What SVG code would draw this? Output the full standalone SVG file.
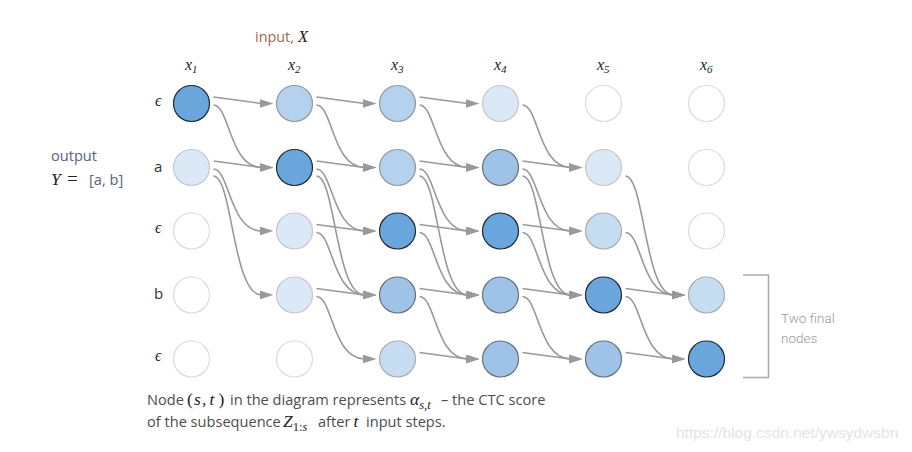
<svg xmlns="http://www.w3.org/2000/svg" width="912" height="452" viewBox="0 0 912 452">
<defs>
<marker id="arr" markerUnits="userSpaceOnUse" markerWidth="14" markerHeight="9" refX="2" refY="4.5" orient="0">
<path d="M0,0 L14,4.5 L0,9 z" fill="#999"/>
</marker>
<style>
.e{fill:none;stroke:#999;stroke-width:1.6;marker-end:url(#arr)}
circle{stroke-width:1.2}
.n0{fill:#fff;stroke:#dcdcdc}
.n1{fill:#dbe8f5;stroke:#c4c8cc}
.n2{fill:#c6dcf0;stroke:#a9adb1}
.n3{fill:#b4d2ee;stroke:#95999d}
.n4{fill:#9fc3e6;stroke:#6b7075}
.n5{fill:#6aa5db;stroke:#1e2a36}
.m{font-family:"Liberation Serif","DejaVu Serif",serif;font-style:italic;fill:#222}
.mu{font-family:"Liberation Serif","DejaVu Serif",serif;font-style:normal;fill:#222}
.t{font-family:"Open Sans","Noto Sans",sans-serif;font-size:14.6px;fill:#4d4d4d}
.rl{font-family:"Open Sans","Noto Sans",sans-serif;font-size:15px;fill:#333}
.xl{font-family:"Liberation Serif","DejaVu Serif",serif;font-style:italic;font-size:16px;fill:#222}
</style>
</defs>
<g id="connectors">
<path class="e" d="M213.5 97 L261.5 103.5"/>
<path class="e" d="M213.5 105 C229.5 105 229.5 167.5 261.5 167.5"/>
<path class="e" d="M213.5 161 L261.5 167.5"/>
<path class="e" d="M213.5 169 C229.5 169 229.5 231 261.5 231"/>
<path class="e" d="M213.5 176 C232.5 176 232.5 295 261.5 295"/>

<path class="e" d="M316.5 97 L364.5 103.5"/>
<path class="e" d="M316.5 105 C332.5 105 332.5 167.5 364.5 167.5"/>
<path class="e" d="M316.5 161 L364.5 167.5"/>
<path class="e" d="M316.5 169 C332.5 169 332.5 231 364.5 231"/>
<path class="e" d="M316.5 176 C335.5 176 335.5 295 364.5 295"/>
<path class="e" d="M316.5 224.5 L364.5 231"/>
<path class="e" d="M316.5 232.5 C332.5 232.5 332.5 295 364.5 295"/>
<path class="e" d="M316.5 288.5 L364.5 295"/>
<path class="e" d="M316.5 296.5 C332.5 296.5 332.5 359 364.5 359"/>

<path class="e" d="M419.5 97 L467.5 103.5"/>
<path class="e" d="M419.5 105 C435.5 105 435.5 167.5 467.5 167.5"/>
<path class="e" d="M419.5 161 L467.5 167.5"/>
<path class="e" d="M419.5 169 C435.5 169 435.5 231 467.5 231"/>
<path class="e" d="M419.5 176 C438.5 176 438.5 295 467.5 295"/>
<path class="e" d="M419.5 224.5 L467.5 231"/>
<path class="e" d="M419.5 232.5 C435.5 232.5 435.5 295 467.5 295"/>
<path class="e" d="M419.5 288.5 L467.5 295"/>
<path class="e" d="M419.5 296.5 C435.5 296.5 435.5 359 467.5 359"/>
<path class="e" d="M419.5 352.5 L467.5 359"/>

<path class="e" d="M522.5 105 C538.5 105 538.5 167.5 570.5 167.5"/>
<path class="e" d="M522.5 161 L570.5 167.5"/>
<path class="e" d="M522.5 169 C538.5 169 538.5 231 570.5 231"/>
<path class="e" d="M522.5 176 C541.5 176 541.5 295 570.5 295"/>
<path class="e" d="M522.5 224.5 L570.5 231"/>
<path class="e" d="M522.5 232.5 C538.5 232.5 538.5 295 570.5 295"/>
<path class="e" d="M522.5 288.5 L570.5 295"/>
<path class="e" d="M522.5 296.5 C538.5 296.5 538.5 359 570.5 359"/>
<path class="e" d="M522.5 352.5 L570.5 359"/>

<path class="e" d="M625.5 176 C644.5 176 644.5 295 673.5 295"/>
<path class="e" d="M625.5 232.5 C641.5 232.5 641.5 295 673.5 295"/>
<path class="e" d="M625.5 288.5 L673.5 295"/>
<path class="e" d="M625.5 296.5 C641.5 296.5 641.5 359 673.5 359"/>
<path class="e" d="M625.5 352.5 L673.5 359"/>
</g>

<g id="node-x1-r0"><circle class="n5" cx="191.5" cy="103.5" r="18"/></g>
<g id="node-x1-r1"><circle class="n1" cx="191.5" cy="167.5" r="18"/></g>
<g id="node-x1-r2"><circle class="n0" cx="191.5" cy="231" r="18"/></g>
<g id="node-x1-r3"><circle class="n0" cx="191.5" cy="295" r="18"/></g>
<g id="node-x1-r4"><circle class="n0" cx="191.5" cy="359" r="18"/></g>

<g id="node-x2-r0"><circle class="n3" cx="294.5" cy="103.5" r="18"/></g>
<g id="node-x2-r1"><circle class="n5" cx="294.5" cy="167.5" r="18"/></g>
<g id="node-x2-r2"><circle class="n1" cx="294.5" cy="231" r="18"/></g>
<g id="node-x2-r3"><circle class="n1" cx="294.5" cy="295" r="18"/></g>
<g id="node-x2-r4"><circle class="n0" cx="294.5" cy="359" r="18"/></g>

<g id="node-x3-r0"><circle class="n3" cx="397.5" cy="103.5" r="18"/></g>
<g id="node-x3-r1"><circle class="n3" cx="397.5" cy="167.5" r="18"/></g>
<g id="node-x3-r2"><circle class="n5" cx="397.5" cy="231" r="18"/></g>
<g id="node-x3-r3"><circle class="n4" cx="397.5" cy="295" r="18"/></g>
<g id="node-x3-r4"><circle class="n2" cx="397.5" cy="359" r="18"/></g>

<g id="node-x4-r0"><circle class="n1" cx="500.5" cy="103.5" r="18"/></g>
<g id="node-x4-r1"><circle class="n4" cx="500.5" cy="167.5" r="18"/></g>
<g id="node-x4-r2"><circle class="n5" cx="500.5" cy="231" r="18"/></g>
<g id="node-x4-r3"><circle class="n4" cx="500.5" cy="295" r="18"/></g>
<g id="node-x4-r4"><circle class="n4" cx="500.5" cy="359" r="18"/></g>

<g id="node-x5-r0"><circle class="n0" cx="603.5" cy="103.5" r="18"/></g>
<g id="node-x5-r1"><circle class="n1" cx="603.5" cy="167.5" r="18"/></g>
<g id="node-x5-r2"><circle class="n2" cx="603.5" cy="231" r="18"/></g>
<g id="node-x5-r3"><circle class="n5" cx="603.5" cy="295" r="18"/></g>
<g id="node-x5-r4"><circle class="n4" cx="603.5" cy="359" r="18"/></g>

<g id="node-x6-r0"><circle class="n0" cx="706.5" cy="103.5" r="18"/></g>
<g id="node-x6-r1"><circle class="n0" cx="706.5" cy="167.5" r="18"/></g>
<g id="node-x6-r2"><circle class="n0" cx="706.5" cy="231" r="18"/></g>
<g id="node-x6-r3"><circle class="n2" cx="706.5" cy="295" r="18"/></g>
<g id="node-x6-r4"><circle class="n5" cx="706.5" cy="359" r="18"/></g>

<g id="labels">
<text x="255" y="42" class="t" style="fill:#a0684e;font-size:14.4px">input,<tspan class="m" style="font-size:16.5px;fill:#222" dx="4">X</tspan></text>
<text x="185" y="70" class="xl">x<tspan dy="3" font-size="11">1</tspan></text>
<text x="288" y="70" class="xl">x<tspan dy="3" font-size="11">2</tspan></text>
<text x="391" y="70" class="xl">x<tspan dy="3" font-size="11">3</tspan></text>
<text x="494" y="70" class="xl">x<tspan dy="3" font-size="11">4</tspan></text>
<text x="597" y="70" class="xl">x<tspan dy="3" font-size="11">5</tspan></text>
<text x="700" y="70" class="xl">x<tspan dy="3" font-size="11">6</tspan></text>

<text x="155" y="105.5" class="xl">ϵ</text>
<text x="154" y="172" class="rl">a</text>
<text x="155" y="233" class="xl">ϵ</text>
<text x="154" y="298.5" class="rl">b</text>
<text x="155" y="361" class="xl">ϵ</text>

<text x="51" y="161" class="t" style="fill:#5a6478">output</text>
<text x="51" y="185" class="m" style="font-size:17.5px">Y</text>
<text x="67" y="185" class="mu" style="font-size:19px">=</text>
<text x="89" y="185" class="t" style="fill:#5a6478">[a, b]</text>

<text x="147" y="405" class="t">Node</text>
<text y="405" class="mu" style="font-size:17.5px"><tspan x="187">(</tspan><tspan x="194" class="m">s</tspan><tspan x="202">,</tspan><tspan x="209.5" class="m">t</tspan><tspan x="218.5">)</tspan></text>
<text x="230" y="405" class="t">in the diagram represents</text>
<text x="410" y="405" class="m" style="font-size:17.5px">α<tspan dy="3.5" font-size="12.5">s,t</tspan></text>
<text x="441" y="405" class="t">– the CTC score</text>

<text x="147" y="427" class="t">of the subsequence</text>
<text x="283" y="427" class="m" style="font-size:17.5px">Z<tspan dy="3.5" font-size="12.5" class="mu">1:</tspan><tspan font-size="12.5">s</tspan></text>
<text x="318" y="427" class="t">after</text>
<text x="353.5" y="427" class="m" style="font-size:17.5px">t</text>
<text x="366" y="427" class="t">input steps.</text>
</g>

<g id="final-bracket">
<path d="M743 275 H768.5 V377.5 H743" fill="none" stroke="#aaa" stroke-width="1.5"/>
<text x="781" y="323" style="font-family:Roboto,'Liberation Sans',sans-serif;font-weight:300;font-size:13.5px;fill:#999">Two final</text>
<text x="781" y="343" style="font-family:Roboto,'Liberation Sans',sans-serif;font-weight:300;font-size:13.5px;fill:#999">nodes</text>
</g>

<text x="676" y="438" style="font-family:'Liberation Sans',Arial,sans-serif;font-size:15.5px;fill:#e4e4e4">https://blog.csdn.net/ywsydwsbn</text>
</svg>
